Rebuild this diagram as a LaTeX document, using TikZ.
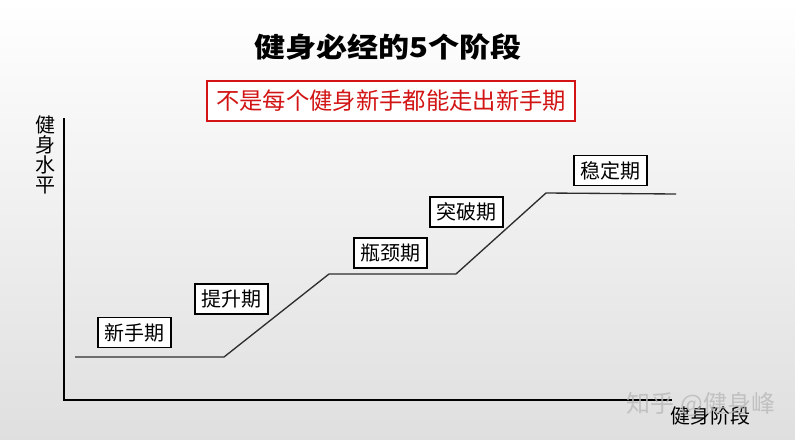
\documentclass[tikz,border=0pt]{standalone}
\usepackage{fontspec}
\setmainfont{Noto Sans CJK SC}
\usetikzlibrary{positioning}

\definecolor{warnred}{RGB}{210,20,20}
\definecolor{curvegray}{RGB}{45,45,45}

\tikzset{
  stagebox/.style={draw, fill=white, line width=0.9pt, inner sep=0pt,
                   minimum width=54.75pt, minimum height=22.5pt, font=\fontsize{15}{15}\selectfont},
  axisline/.style={line width=1pt, black},
}

\begin{document}
\begin{tikzpicture}[x=0.75pt, y=-0.75pt]
  % background
  \shade[top color=white, bottom color=gray!25] (0,0) rectangle (795,439);
  \useasboundingbox (0,0) rectangle (795,439);

  % title and red remark
  \node[font=\fontsize{23.3}{24}\selectfont\bfseries] (title) at (388,47)
    {\scalebox{1}[0.88]{健身必经的5个阶段}};
  \node[draw=warnred, fill=white, line width=1.4pt, text=warnred,
        minimum width=276pt, minimum height=30pt, inner sep=0pt,
        font=\fontsize{17.5}{17.5}\selectfont] (remark) at (391,101)
    {不是每个健身新手都能走出新手期};

  % axes
  \coordinate (O) at (64,400);
  \coordinate (Ytop) at (64,118);
  \coordinate (Xend) at (672,400);
  \draw[axisline] (Ytop) -- (O) -- (Xend);
  \node[font=\fontsize{15}{15}\selectfont, align=center, inner sep=0pt] (ylab) at (46,155)
    {健\\身\\水\\平};
  \node[font=\fontsize{15}{15}\selectfont, inner sep=0pt] (xlab) at (710,416) {健身阶段};

  % level curve
  \coordinate (P0) at (75,357);
  \coordinate (P1) at (224,357);
  \coordinate (P2) at (329,274);
  \coordinate (P3) at (456,274);
  \coordinate (P4) at (546,193);
  \coordinate (P5) at (676,194);
  \draw[curvegray, line width=1pt] (P0) -- (P1) -- (P2) -- (P3) -- (P4) -- (P5);

  % stage labels
  \foreach \name/\x/\y/\txt in {S1/134.5/332.5/新手期, S2/231.5/299/提升期,
                                S3/390.5/253/瓶颈期, S4/466.5/212/突破期,
                                S5/610.5/170.5/稳定期} {
    \node[stagebox] (\name) at (\x,\y) {\txt};
  }

  % watermark
  \node[text=gray!55, opacity=0.8, font=\fontsize{18}{18}\selectfont, inner sep=0pt] (mark) at (701,404)
    {知乎 @健身峰};
\end{tikzpicture}
\end{document}
